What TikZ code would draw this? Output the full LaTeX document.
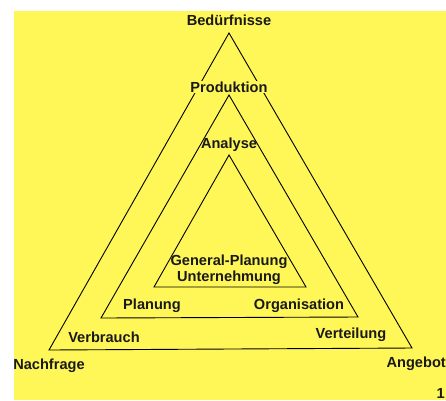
\documentclass[tikz,border=0pt]{standalone}
\usepackage{fontspec}
\setmainfont{Liberation Sans}
\definecolor{paper}{RGB}{255,246,88}
\tikzset{
  tri/.style={draw=black, line width=0.9pt, line join=miter},
  lbl/.style={font=\fontsize{14.6}{16}\selectfont\bfseries, inner sep=0pt, text=black!90},
}
\begin{document}
\begin{tikzpicture}[x=1pt,y=-1pt]
\useasboundingbox (0,0) rectangle (446,400);
\fill[white] (0,0) rectangle (446,400);
\fill[paper] (14,11) rectangle (446,400);
% outer triangle
\coordinate (oa) at (229,33);
\coordinate (ol) at (49,350);
\coordinate (or) at (412,348);
% middle triangle
\coordinate (ma) at (229,95);
\coordinate (ml) at (101,318);
\coordinate (mr) at (358,317);
% inner triangle
\coordinate (ia) at (229,155);
\coordinate (il) at (154,287);
\coordinate (ir) at (306,287);
\draw[tri] (oa) -- (ol) -- (or) -- cycle;
\draw[tri] (ma) -- (ml) -- (mr) -- cycle;
\draw[tri] (ia) -- (il) -- (ir) -- cycle;
% labels
\node[lbl] (bed) at (229,20) {Bedürfnisse};
\node[lbl,fill=paper,inner sep=1pt] (pro) at (229,87) {Produktion};
\node[lbl] (ana) at (229,145) {Analyse};
\node[lbl] (gen) at (229,262) {General-Planung};
\node[lbl] (unt) at (229,278) {Unternehmung};
\node[lbl] (pla) at (152,306) {Planung};
\node[lbl] (org) at (299,306) {Organisation};
\node[lbl] (ver) at (104,337) {Verbrauch};
\node[lbl] (vtl) at (351,335) {Verteilung};
\node[lbl] (nach) at (49,366) {Nachfrage};
\node[lbl,anchor=east] (ang) at (446,364) {Angebot};
\node[lbl,anchor=east] (num) at (445,393) {1};
\end{tikzpicture}
\end{document}
